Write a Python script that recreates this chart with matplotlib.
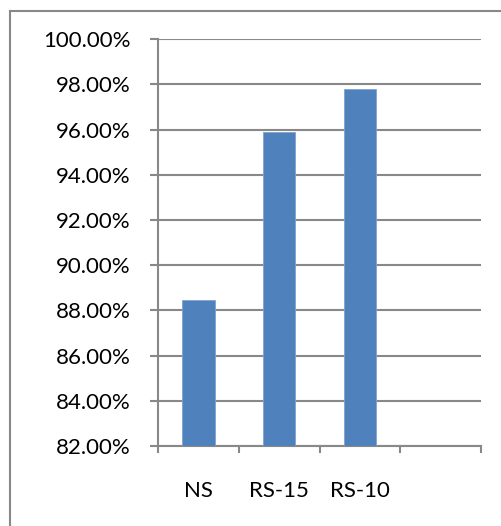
import matplotlib
matplotlib.use("Agg")
import matplotlib.pyplot as plt
from matplotlib.lines import Line2D
from matplotlib.ticker import FuncFormatter, FixedLocator

categories = ["NS", "RS-15", "RS-10", ""]
values = [88.46, 95.88, 97.81, None]
y_ticks = [82, 84, 86, 88, 90, 92, 94, 96, 98, 100]

plt.rcParams['font.family'] = ['Lato', 'DejaVu Sans']

fig = plt.figure(figsize=(5.02, 5.26), dpi=100)
ax = fig.add_axes([158/502, 1-446/526, 323/502, (446-39.3)/526])

grey = "#888888"
xs = [i for i, v in enumerate(values) if v is not None]
hs = [v for v in values if v is not None]
ax.bar(xs, [h - 82 for h in hs], bottom=82, width=0.4,
       color="#4F81BD", edgecolor="#7FA3CF", linewidth=0.6, zorder=3)

ax.set_xlim(-0.5, 3.5)
ax.set_ylim(82, 100)
ax.yaxis.set_major_locator(FixedLocator(y_ticks))
ax.yaxis.set_major_formatter(FuncFormatter(lambda v, p: "%.2f%%" % v))
ax.xaxis.set_major_locator(FixedLocator([-0.5, 0.5, 1.5, 2.5, 3.5]))
ax.xaxis.set_minor_locator(FixedLocator([0, 1, 2, 3]))
ax.set_xticklabels([])
ax.set_xticklabels(categories, minor=True)

ax.grid(axis='y', color=grey, linewidth=1.5, zorder=0)
ax.set_axisbelow(True)
for s in ["top", "right"]:
    ax.spines[s].set_visible(False)
for s in ["left", "bottom"]:
    ax.spines[s].set_color(grey)
    ax.spines[s].set_linewidth(1.5)

ax.tick_params(axis='y', which='major', length=6, width=1.5, color=grey,
               pad=13.5, labelsize=16, labelcolor="black")
ax.tick_params(axis='x', which='major', length=5, width=1.5, color=grey)
ax.tick_params(axis='x', which='minor', length=0, pad=25, labelsize=16)

# outer chart border (left and top edges visible)
fig.add_artist(Line2D([10/502, 10/502], [0, 1 - 11/526],
                      transform=fig.transFigure, color=grey, linewidth=1.5))
fig.add_artist(Line2D([10/502, 1], [1 - 11/526, 1 - 11/526],
                      transform=fig.transFigure, color=grey, linewidth=1.5))

fig.savefig("out.png", dpi=100)
